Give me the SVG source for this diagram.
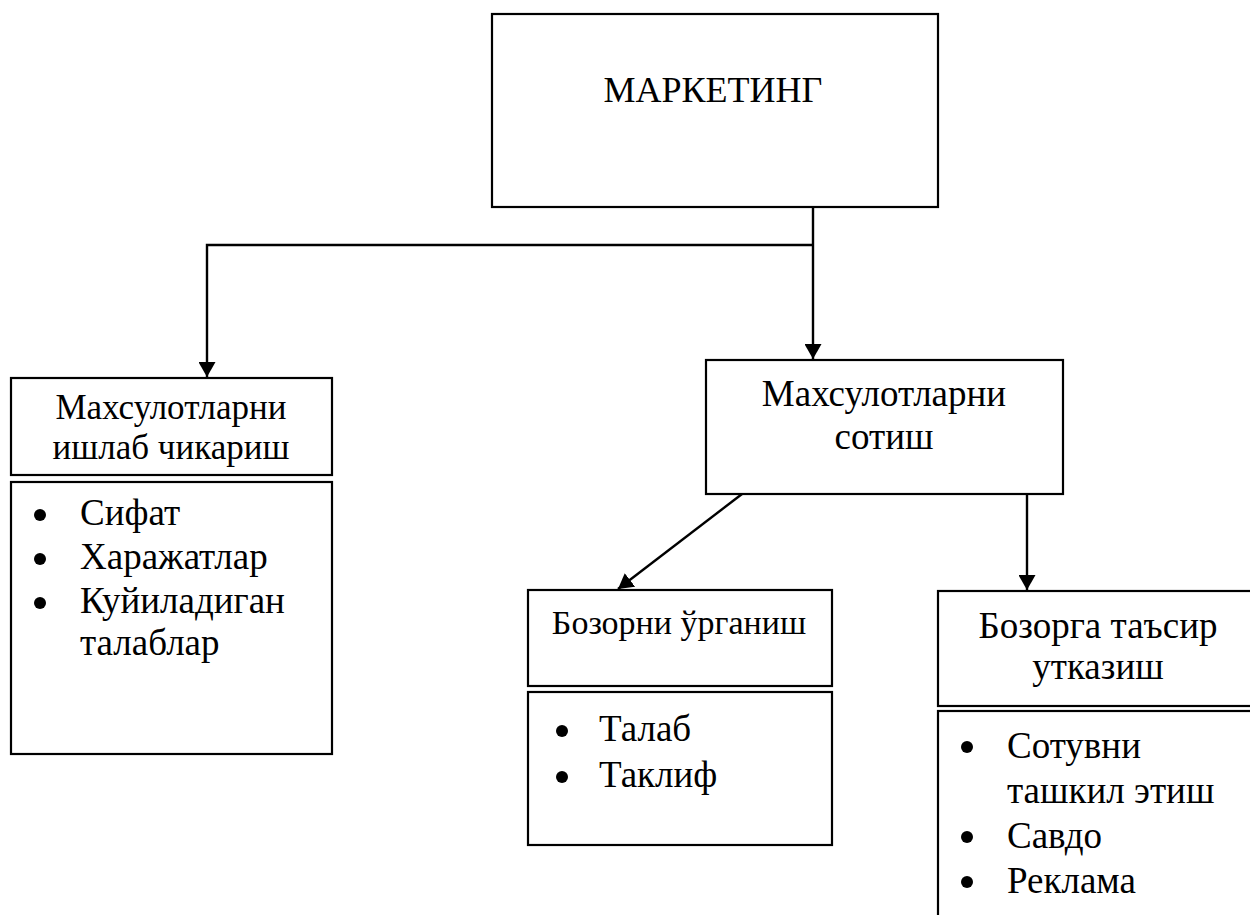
<svg xmlns="http://www.w3.org/2000/svg" width="1250" height="915" viewBox="0 0 1250 915">
<style>
.box{fill:#fff;stroke:#000;stroke-width:2.2}
.t{font-family:"Liberation Serif","Times New Roman",serif;fill:#000}
.c{text-anchor:middle}
.ln{fill:none;stroke:#000;stroke-width:2.4}
.dot{fill:#000}
</style>
<defs>
<marker id="ah" markerUnits="userSpaceOnUse" markerWidth="17" markerHeight="17" refX="15" refY="8.5" orient="auto">
<path d="M0,0 L15,8.5 L0,17 z" fill="#000"/>
</marker>
</defs>
<rect width="1250" height="915" fill="#fff"/>
<g id="connectors">
<path class="ln" d="M813,207 V359" marker-end="url(#ah)"/>
<path class="ln" d="M813,245 H207 V377" marker-end="url(#ah)"/>
<path class="ln" d="M742,494 L618,589" marker-end="url(#ah)"/>
<path class="ln" d="M1027,494 V590" marker-end="url(#ah)"/>
</g>
<g id="marketing">
<rect class="box" x="492" y="14" width="446" height="193"/>
<text class="t c" x="713" y="102" font-size="36">МАРКЕТИНГ</text>
</g>
<g id="production">
<rect class="box" x="11" y="378" width="321" height="97"/>
<text class="t c" x="171" y="419" font-size="35">Махсулотларни</text>
<text class="t c" x="171" y="459" font-size="35">ишлаб чикариш</text>
</g>
<g id="production-list">
<rect class="box" x="11" y="482" width="321" height="272"/>
<circle class="dot" cx="40" cy="515" r="6"/>
<circle class="dot" cx="40" cy="559" r="6"/>
<circle class="dot" cx="40" cy="603" r="6"/>
<text class="t" x="80" y="525" font-size="37">Сифат</text>
<text class="t" x="80" y="569" font-size="37">Харажатлар</text>
<text class="t" x="80" y="613" font-size="37">Куйиладиган</text>
<text class="t" x="80" y="655" font-size="37">талаблар</text>
</g>
<g id="sales">
<rect class="box" x="706" y="360" width="357" height="134"/>
<text class="t c" x="884" y="406" font-size="37">Махсулотларни</text>
<text class="t c" x="884" y="449" font-size="37">сотиш</text>
</g>
<g id="market-research">
<rect class="box" x="528" y="590" width="304" height="96"/>
<text class="t c" x="679" y="634" font-size="34">Бозорни ўрганиш</text>
</g>
<g id="market-research-list">
<rect class="box" x="528" y="692" width="304" height="153"/>
<circle class="dot" cx="562" cy="731" r="6"/>
<circle class="dot" cx="562" cy="777" r="6"/>
<text class="t" x="599" y="741" font-size="37">Талаб</text>
<text class="t" x="599" y="787" font-size="37">Таклиф</text>
</g>
<g id="market-influence">
<rect class="box" x="938" y="591" width="330" height="115"/>
<text class="t c" x="1098" y="638" font-size="37">Бозорга таъсир</text>
<text class="t c" x="1098" y="679" font-size="37">утказиш</text>
</g>
<g id="market-influence-list">
<rect class="box" x="938" y="711" width="330" height="230"/>
<circle class="dot" cx="967" cy="747" r="6"/>
<circle class="dot" cx="967" cy="837" r="6"/>
<circle class="dot" cx="967" cy="882" r="6"/>
<text class="t" x="1007" y="758" font-size="37">Сотувни</text>
<text class="t" x="1007" y="803" font-size="37">ташкил этиш</text>
<text class="t" x="1007" y="848" font-size="37">Савдо</text>
<text class="t" x="1007" y="893" font-size="37">Реклама</text>
</g>
</svg>
